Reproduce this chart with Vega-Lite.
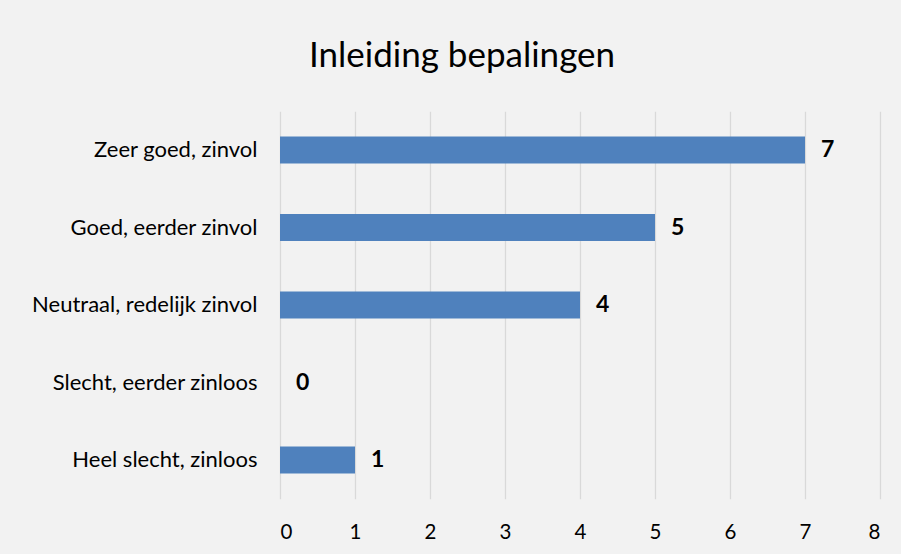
{
  "$schema": "https://vega.github.io/schema/vega-lite/v6.json",
  "width": 600,
  "height": 387.5,
  "autosize": {"type": "none"},
  "padding": {"left": 280, "top": 111.25, "right": 21, "bottom": 55.25},
  "background": "#f2f2f2",
  "title": {
    "text": "Inleiding bepalingen",
    "font": "Lato",
    "fontSize": 35,
    "fontWeight": "normal",
    "color": "#000000",
    "anchor": "middle",
    "baseline": "alphabetic",
    "offset": 9,
    "dx": -118
  },
  "config": {
    "view": {"stroke": null},
    "font": "Lato"
  },
  "data": {
    "values": [
      {"categorie": "Zeer goed, zinvol", "aantal": 7},
      {"categorie": "Goed, eerder zinvol", "aantal": 5},
      {"categorie": "Neutraal, redelijk zinvol", "aantal": 4},
      {"categorie": "Slecht, eerder zinloos", "aantal": 0},
      {"categorie": "Heel slecht, zinloos", "aantal": 1}
    ]
  },
  "encoding": {
    "y": {
      "field": "categorie",
      "type": "nominal",
      "sort": null,
      "scale": {"paddingInner": 0.65, "paddingOuter": 0.325},
      "axis": {
        "title": null,
        "domain": false,
        "ticks": false,
        "labelFont": "Lato",
        "labelFontSize": 22,
        "labelColor": "#000000",
        "labelPadding": 23,
        "labelLimit": 300
      }
    },
    "x": {
      "field": "aantal",
      "type": "quantitative",
      "scale": {"domain": [0, 8], "nice": false},
      "axis": {
        "title": null,
        "domain": false,
        "ticks": false,
        "values": [0, 1, 2, 3, 4, 5, 6, 7, 8],
        "grid": true,
        "gridColor": "#d9d9d9",
        "gridWidth": 1.3,
        "labelFont": "Lato",
        "labelFontSize": 20.5,
        "labelColor": "#000000",
        "labelPadding": 24
      }
    }
  },
  "layer": [
    {"mark": {"type": "bar", "color": "#4f81bd"}},
    {
      "mark": {
        "type": "text",
        "align": "left",
        "baseline": "middle",
        "dx": 16,
        "fontSize": 23,
        "fontWeight": "bold",
        "font": "Lato",
        "color": "#000000"
      },
      "encoding": {"text": {"field": "aantal", "type": "quantitative"}}
    }
  ]
}
